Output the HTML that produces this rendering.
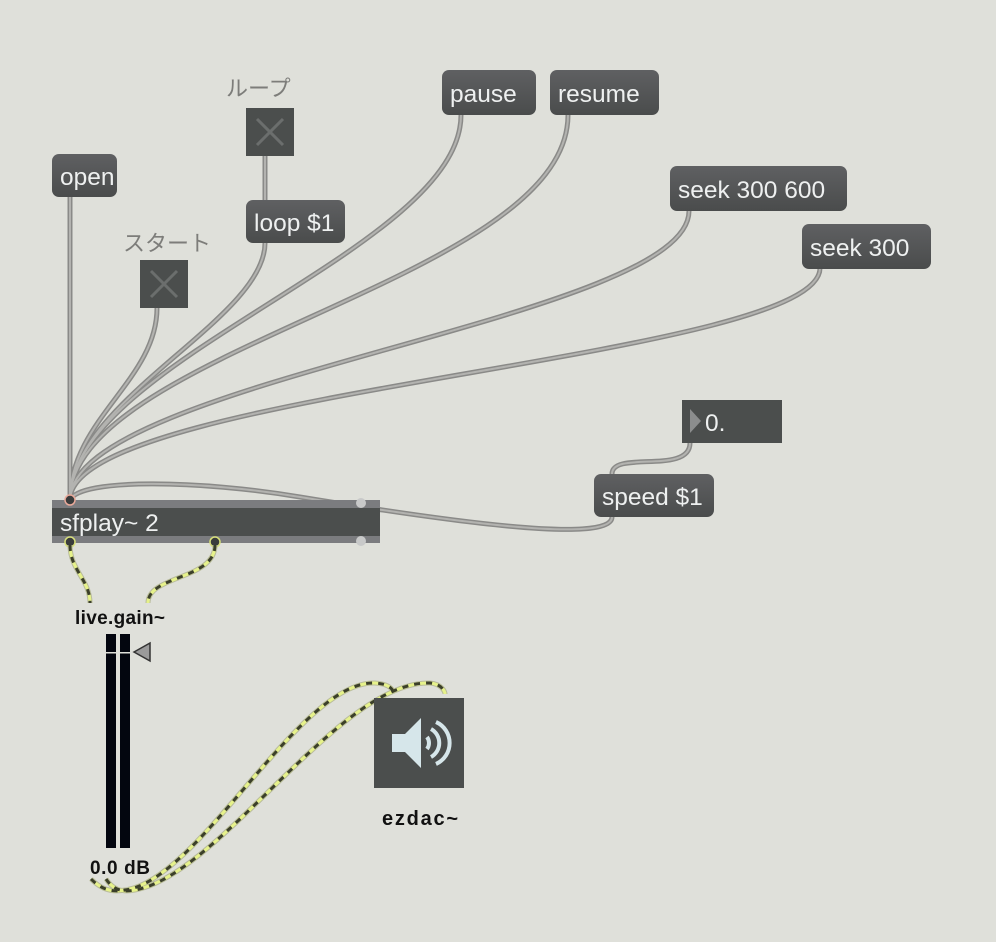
<!DOCTYPE html>
<html><head><meta charset="utf-8"><style>
html,body{margin:0;padding:0;background:#dfe0da;}
svg{display:block}
.msg{font-family:"Liberation Sans",sans-serif;font-size:24.5px;fill:#eef0f0}
.lbl{font-family:"Liberation Sans","Noto Sans CJK JP",sans-serif;font-size:22px;fill:#7d7d7a}
.blk{font-family:"Liberation Sans",sans-serif;font-weight:bold;fill:#111}
</style></head><body>
<svg width="996" height="942" viewBox="0 0 996 942">
<defs>
<linearGradient id="mg" x1="0" y1="0" x2="0" y2="1"><stop offset="0" stop-color="#5f6062"/><stop offset="1" stop-color="#4a4c4c"/></linearGradient>
</defs>
<g fill="none" stroke-linecap="round">
 <g stroke="#8a8a88" stroke-width="5">
  <path d="M70,197 L70,500"/>
  <path d="M157,308 C157,380 70,420 70,500"/>
  <path d="M265,243 C265,320 70,400 70,500"/>
  <path d="M461,115 C461,250 70,360 70,500"/>
  <path d="M568,115 C568,280 70,350 70,500"/>
  <path d="M689,211 C689,320 70,380 70,500"/>
  <path d="M820,268 C820,360 70,390 70,500"/>
  <path d="M612,517 C612,545 440,520 300,497 C200,480 80,478 70,500"/>
  <path d="M690,443 C690,475 612,450 612,474"/>
 </g>
 <g stroke="#b3b3b0" stroke-width="2">
  <path d="M70,197 L70,500"/>
  <path d="M157,308 C157,380 70,420 70,500"/>
  <path d="M265,243 C265,320 70,400 70,500"/>
  <path d="M461,115 C461,250 70,360 70,500"/>
  <path d="M568,115 C568,280 70,350 70,500"/>
  <path d="M689,211 C689,320 70,380 70,500"/>
  <path d="M820,268 C820,360 70,390 70,500"/>
  <path d="M612,517 C612,545 440,520 300,497 C200,480 80,478 70,500"/>
  <path d="M690,443 C690,475 612,450 612,474"/>
 </g>
 <path d="M265,156 L265,200" stroke="#8a8a88" stroke-width="5"/>
 <path d="M265,156 L265,200" stroke="#b3b3b0" stroke-width="2"/>
</g>
<text x="226" y="96" class="lbl">ループ</text>
<rect x="246" y="108" width="48" height="48" fill="#4b4e4d"/>
<path d="M257,119 L283,145 M283,119 L257,145" stroke="#6b6e6d" stroke-width="3"/>
<text x="123" y="251" class="lbl">スタート</text>
<rect x="140" y="260" width="48" height="48" fill="#4b4e4d"/>
<path d="M151,271 L177,297 M177,271 L151,297" stroke="#6b6e6d" stroke-width="3"/>
<g>
<rect x="52" y="154" width="65" height="43" rx="7" fill="url(#mg)"/><text x="60" y="185" class="msg">open</text>
<rect x="246" y="200" width="99" height="43" rx="7" fill="url(#mg)"/><text x="254" y="231" class="msg">loop $1</text>
<rect x="442" y="70" width="94" height="45" rx="7" fill="url(#mg)"/><text x="450" y="102" class="msg">pause</text>
<rect x="550" y="70" width="109" height="45" rx="7" fill="url(#mg)"/><text x="558" y="102" class="msg">resume</text>
<rect x="670" y="166" width="177" height="45" rx="7" fill="url(#mg)"/><text x="678" y="198" class="msg">seek 300 600</text>
<rect x="802" y="224" width="129" height="45" rx="7" fill="url(#mg)"/><text x="810" y="256" class="msg">seek 300</text>
<rect x="594" y="474" width="120" height="43" rx="7" fill="url(#mg)"/><text x="602" y="505" class="msg">speed $1</text>
</g>
<rect x="682" y="400" width="100" height="43" fill="#4b4e4d"/>
<path d="M690,409 L701,421 L690,433 Z" fill="#8b8d8d"/>
<text x="705" y="431" class="msg">0.</text>
<rect x="52" y="500" width="328" height="43" fill="#7b7c7f"/>
<rect x="52" y="508" width="328" height="28" fill="#4b4e4d"/>
<text x="60" y="531" class="msg">sfplay~ 2</text>
<circle cx="70" cy="500" r="5" fill="#3a3c3c" stroke="#e9a99a" stroke-width="1.5"/>
<circle cx="361" cy="503" r="5" fill="#c8c9c9"/>
<circle cx="361" cy="541" r="5" fill="#c8c9c9"/>
<circle cx="70" cy="542" r="5" fill="#3a3c3c" stroke="#d8e07a" stroke-width="1.5"/>
<circle cx="215" cy="542" r="5" fill="#3a3c3c" stroke="#d8e07a" stroke-width="1.5"/>
<g fill="none">
 <g stroke="#b9bc9a" stroke-width="5">
  <path d="M70,545 C70,570 90,580 90,603"/>
  <path d="M215,545 C215,580 148,575 148,603"/>
  <path d="M91,879 C100,888 110,893 125,890 C200,880 300,680 375,683 C390,684 393,690 393,692"/>
  <path d="M106,879 C112,888 120,893 135,890 C220,875 340,680 430,683 C442,684 445,692 445,694"/>
 </g>
 <g stroke="#e6f28a" stroke-width="3">
  <path d="M70,545 C70,570 90,580 90,603"/>
  <path d="M215,545 C215,580 148,575 148,603"/>
  <path d="M91,879 C100,888 110,893 125,890 C200,880 300,680 375,683 C390,684 393,690 393,692"/>
  <path d="M106,879 C112,888 120,893 135,890 C220,875 340,680 430,683 C442,684 445,692 445,694"/>
 </g>
 <g stroke="#3b3f2a" stroke-width="3" stroke-dasharray="6 6">
  <path d="M70,545 C70,570 90,580 90,603"/>
  <path d="M215,545 C215,580 148,575 148,603"/>
  <path d="M91,879 C100,888 110,893 125,890 C200,880 300,680 375,683 C390,684 393,690 393,692"/>
  <path d="M106,879 C112,888 120,893 135,890 C220,875 340,680 430,683 C442,684 445,692 445,694"/>
 </g>
</g>
<text x="75" y="624" class="blk" font-size="19" textLength="90">live.gain~</text>
<rect x="106" y="634" width="10" height="214" fill="#03060f"/>
<rect x="120" y="634" width="10" height="214" fill="#03060f"/>
<rect x="106" y="652" width="24" height="1.5" fill="#dfe0da"/>
<path d="M134,652 L150,643 L150,661 Z" fill="#9a9a9a" stroke="#333" stroke-width="1.5"/>
<text x="90" y="874" class="blk" font-size="19" textLength="60">0.0 dB</text>
<rect x="374" y="698" width="90" height="90" fill="#4b4e4d"/>
<path d="M392,734 L405,734 L421,718 L421,768 L405,752 L392,752 Z" fill="#d6e6ea"/>
<path d="M427,737 A10,10 0 0 1 427,749" stroke="#d6e6ea" stroke-width="4" fill="none"/>
<path d="M431,729 A16,16 0 0 1 431,757" stroke="#d6e6ea" stroke-width="4" fill="none"/>
<path d="M436,722 A23,23 0 0 1 436,764" stroke="#d6e6ea" stroke-width="4" fill="none"/>
<text x="382" y="825" class="blk" font-size="20" textLength="76">ezdac~</text>
</svg>
</body></html>
